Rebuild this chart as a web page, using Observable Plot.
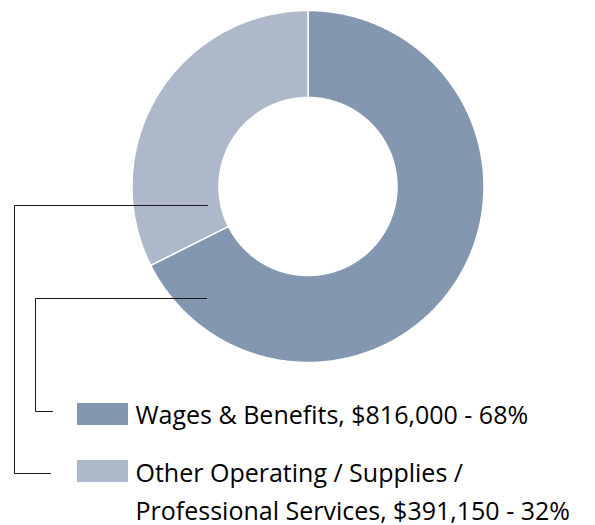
<!DOCTYPE html>
<html><head><meta charset="utf-8">
<script src="https://cdn.jsdelivr.net/npm/d3@7"></script>
<script src="https://cdn.jsdelivr.net/npm/@observablehq/plot@0.6"></script>
<style>body{margin:0;background:#fff}</style>
</head><body><div id="chart"></div>
<script>
// ---- data ----
const categories = ["Wages & Benefits", "Other Operating / Supplies / Professional Services"];
const amounts = [816000, 391150];
const legendLabels = [
  "Wages & Benefits, $816,000 - 68%",
  "Other Operating / Supplies /\nProfessional Services, $391,150 - 32%"
];
const colors = ["#8497b0", "#adb9ca"];

// ---- layout ----
const W = 595, H = 525;
const cx = 307.5, cy = 186, R = 176, r = 89;
const fontSize = 25;
const legend = {x: 77, w: 51, h: 22, rowTop: [403, 460], textX: 135, lastBaseline: [423.5, 519], lineGap: 37.5};
const leaders = [
  {anchor: [206, 298], cornerX: 35, endX: 52, endY: 411},
  {anchor: [207, 205], cornerX: 14, endX: 50, endY: 473}
];

// ---- donut geometry from data ----
const arcs = d3.pie().sort(null).startAngle(0).endAngle(2 * Math.PI)(amounts);
const pt = (rad, a) => ({x: cx + rad * Math.sin(a), y: cy - rad * Math.cos(a)});
const slicePts = [];
arcs.forEach((a, i) => {
  const n = Math.max(4, Math.ceil((a.endAngle - a.startAngle) / (Math.PI / 360)));
  const poly = [];
  for (let k = 0; k <= n; k++) poly.push(pt(R, a.startAngle + (a.endAngle - a.startAngle) * k / n));
  for (let k = n; k >= 0; k--) poly.push(pt(r, a.startAngle + (a.endAngle - a.startAngle) * k / n));
  poly.push(poly[0]);
  poly.forEach(p => slicePts.push({...p, name: categories[i]}));
});

const leaderPts = [];
leaders.forEach((l, i) => {
  [[l.anchor[0], l.anchor[1]], [l.cornerX, l.anchor[1]], [l.cornerX, l.endY], [l.endX, l.endY]]
    .forEach(([x, y]) => leaderPts.push({x, y, name: categories[i]}));
});

const legendRows = categories.map((c, i) => ({
  name: c, label: legendLabels[i],
  x1: legend.x, x2: legend.x + legend.w, y1: legend.rowTop[i], y2: legend.rowTop[i] + legend.h,
  tx: legend.textX, ty: legend.lastBaseline[i]
}));

const chart = Plot.plot({
  width: W, height: H,
  margin: 0,
  x: {type: "identity", axis: null},
  y: {type: "identity", axis: null},
  color: {domain: categories, range: colors},
  style: {fontFamily: "'Open Sans', sans-serif", background: "#fff"},
  marks: [
    Plot.line(slicePts, {x: "x", y: "y", z: "name", fill: "name", stroke: "white", strokeWidth: 1.5, curve: "linear"}),
    Plot.line(leaderPts, {x: "x", y: "y", z: "name", stroke: "#1a1a1a", strokeWidth: 1, curve: "linear"}),
    Plot.rect(legendRows, {x1: "x1", x2: "x2", y1: "y1", y2: "y2", fill: "name"}),
    Plot.text(legendRows, {x: "tx", y: "ty", text: "label", textAnchor: "start", lineAnchor: "bottom",
      fontSize, lineHeight: legend.lineGap / fontSize, fill: "#000", fontFamily: "'Open Sans'"})
  ]
});
document.getElementById("chart").appendChild(chart);
</script>
</body></html>
